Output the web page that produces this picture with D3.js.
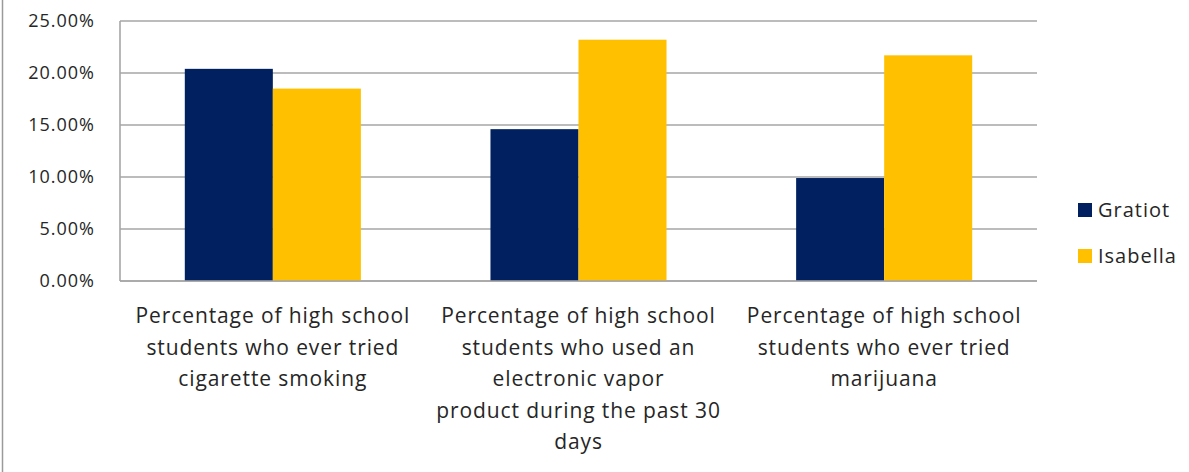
<!DOCTYPE html>
<html>
<head>
<meta charset="utf-8">
<script src="https://cdn.jsdelivr.net/npm/d3@7"></script>
<style>
  html, body { margin: 0; padding: 0; background: #fff; }
  svg { display: block; }
  text { font-family: "Open Sans", Lato, sans-serif; fill: #262626; }
</style>
</head>
<body>
<svg id="chart" width="1189" height="472"></svg>
<script>
// Survey results for high school students, by county
const categories = [
  ["Percentage of high school", "students who ever tried", "cigarette smoking"],
  ["Percentage of high school", "students who used an", "electronic vapor", "product during the past 30", "days"],
  ["Percentage of high school", "students who ever tried", "marijuana"]
];
const seriesNames = ["Gratiot", "Isabella"];
const gratiot = [0.204, 0.146, 0.099];
const isabella = [0.185, 0.232, 0.217];
const yTicks = [0, 0.05, 0.10, 0.15, 0.20, 0.25];
const colors = ["#002060", "#FFC000"];

const svg = d3.select("#chart");
const plot = { left: 120, right: 1037, top: 21, bottom: 281 };

const x0 = d3.scaleBand()
  .domain(d3.range(categories.length))
  .range([plot.left, plot.right])
  .paddingInner(0.424)
  .paddingOuter(0.212);
const x1 = d3.scaleBand()
  .domain(seriesNames)
  .range([0, x0.bandwidth()]);
const y = d3.scaleLinear().domain([0, 0.25]).range([plot.bottom, plot.top]);

// outer chart frame edge on the left
svg.append("line")
  .attr("x1", 2.5).attr("x2", 2.5).attr("y1", 0).attr("y2", 472)
  .attr("stroke", "#9a9a9a").attr("stroke-width", 1.5);

// horizontal gridlines
svg.append("g")
  .selectAll("line")
  .data(yTicks)
  .join("line")
  .attr("x1", plot.left).attr("x2", plot.right)
  .attr("y1", d => y(d)).attr("y2", d => y(d))
  .attr("stroke", "#a6a6a6").attr("stroke-width", 1.6);

// value axis line
svg.append("line")
  .attr("x1", plot.left).attr("x2", plot.left)
  .attr("y1", plot.top).attr("y2", plot.bottom)
  .attr("stroke", "#a6a6a6").attr("stroke-width", 1.6);

// y-axis labels
const yAxis = d3.axisLeft(y)
  .tickValues(yTicks)
  .tickFormat(d3.format(".2%"))
  .tickSize(0)
  .tickPadding(25);
const yg = svg.append("g").attr("transform", `translate(${plot.left},0)`).call(yAxis);
yg.select(".domain").remove();
yg.selectAll("text")
  .attr("font-size", 18)
  .attr("font-family", "'DejaVu Sans', sans-serif")
  .attr("fill", "#262626")
  .attr("letter-spacing", "1px");

// bars
const rows = categories.map((c, i) => ({ i, values: [gratiot[i], isabella[i]] }));
const groups = svg.append("g")
  .selectAll("g")
  .data(rows)
  .join("g")
  .attr("transform", d => `translate(${x0(d.i)},0)`);
groups.selectAll("rect")
  .data(d => d.values.map((v, k) => ({ name: seriesNames[k], v, k })))
  .join("rect")
  .attr("x", d => x1(d.name))
  .attr("width", x1.bandwidth())
  .attr("y", d => y(d.v))
  .attr("height", d => y(0) - y(d.v))
  .attr("fill", d => colors[d.k]);

// redraw axis baseline over bars
svg.append("line")
  .attr("x1", plot.left).attr("x2", plot.right)
  .attr("y1", y(0)).attr("y2", y(0))
  .attr("stroke", "#a6a6a6").attr("stroke-width", 1.6);

// category labels
const catLabels = svg.append("g")
  .selectAll("text")
  .data(categories)
  .join("text")
  .attr("text-anchor", "middle")
  .attr("font-size", 21)
  .attr("letter-spacing", "0.9px")
  .attr("transform", (d, i) => `translate(${x0(i) + x0.bandwidth() / 2},323)`);
catLabels.selectAll("tspan")
  .data(d => d)
  .join("tspan")
  .attr("x", 0)
  .attr("y", (d, j) => j * 31.5)
  .text(d => d);

// legend
const legend = svg.append("g")
  .selectAll("g")
  .data(seriesNames)
  .join("g")
  .attr("transform", (d, i) => `translate(1078,${203 + i * 46})`);
legend.append("rect")
  .attr("width", 14).attr("height", 14)
  .attr("fill", (d, i) => colors[i]);
legend.append("text")
  .attr("x", 20).attr("y", 14)
  .attr("font-size", 20)
  .attr("letter-spacing", "1px")
  .text(d => d);
</script>
</body>
</html>
